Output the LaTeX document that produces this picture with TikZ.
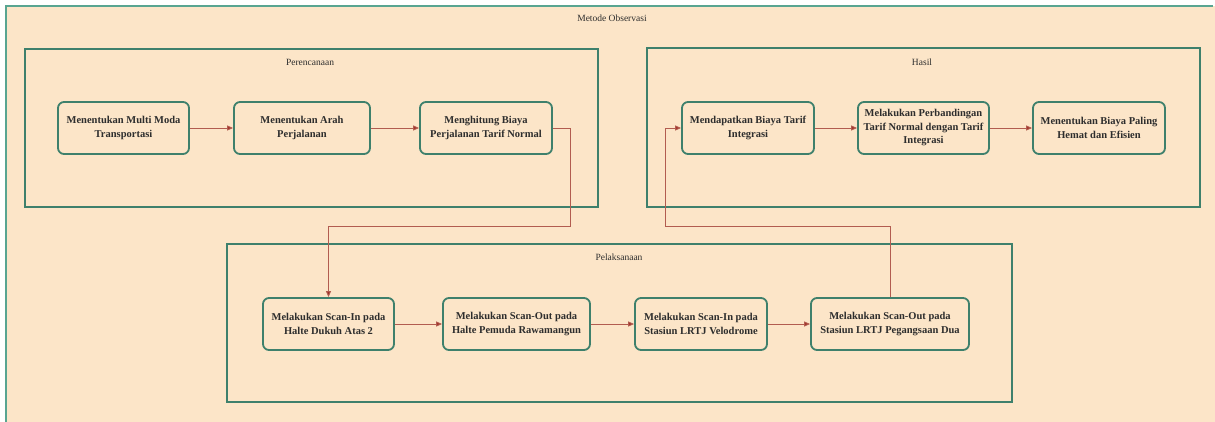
\documentclass[tikz,border=0pt]{standalone}
\usepackage{fontspec}
\setmainfont{Liberation Serif}
\usepackage{tikz}
\usetikzlibrary{positioning,arrows.meta,calc}
\usepackage{xcolor}
\definecolor{peach}{RGB}{252,229,200}
\definecolor{teal1}{RGB}{88,165,145}
\definecolor{tealdark}{RGB}{62,128,108}
\definecolor{flowred}{RGB}{178,92,80}
\definecolor{tipred}{RGB}{160,45,35}
\definecolor{txt}{RGB}{45,45,45}

\begin{document}
\begin{tikzpicture}[x=1pt, y=-1pt,
  stepbox/.style={rectangle, rounded corners=6pt, draw=tealdark, line width=1.8pt, fill=peach,
    minimum height=52pt, align=center, text=txt, inner sep=2pt,
    font=\fontsize{10.5}{13.5}\selectfont\bfseries},
  phase/.style={draw=tealdark, line width=2pt},
  phaselabel/.style={font=\fontsize{9.5}{11}\selectfont, text=txt},
  flow/.style={-{Triangle[length=6pt, width=5pt, fill=tipred]}, draw=flowred, line width=0.9pt},
]
  \useasboundingbox (0,0) rectangle (1215,421);
  \fill[white] (0,0) rectangle (1215,421);

  % outer frame (cut off at right and bottom)
  \fill[peach] (6,6) rectangle (1215,440);
  \draw[teal1, line width=1.6pt] (6,440) -- (6,6) -- (1213,6);
  \node[phaselabel] (title) at (612,18) {Metode Observasi};

  % phase containers
  \draw[phase] (25,49) rectangle (598,207);
  \node[phaselabel] (lplan) at (310,62) {Perencanaan};
  \draw[phase] (647,48) rectangle (1200,207);
  \node[phaselabel] (lhasil) at (922,62) {Hasil};
  \draw[phase] (227,244) rectangle (1012,402);
  \node[phaselabel] (lpel) at (619,257) {Pelaksanaan};

  % Perencanaan steps
  \node[stepbox, minimum width=131pt] (P1) at (123.5,128) {Menentukan Multi Moda\\Transportasi};
  \node[stepbox, minimum width=136pt] (P2) at (302,128) {Menentukan Arah\\Perjalanan};
  \node[stepbox, minimum width=132pt] (P3) at (486,128) {Menghitung Biaya\\Perjalanan Tarif Normal};

  % Hasil steps
  \node[stepbox, minimum width=132pt] (H1) at (748,128) {Mendapatkan Biaya Tarif\\Integrasi};
  \node[stepbox, minimum width=131pt] (H2) at (923.5,128) {Melakukan Perbandingan\\Tarif Normal dengan Tarif\\Integrasi};
  \node[stepbox, minimum width=132pt] (H3) at (1099,128) {Menentukan Biaya Paling\\Hemat dan Efisien};

  % Pelaksanaan steps
  \node[stepbox, minimum width=131pt] (L1) at (328.5,324) {Melakukan Scan-In pada\\Halte Dukuh Atas 2};
  \node[stepbox, minimum width=147pt] (L2) at (516.5,324) {Melakukan Scan-Out pada\\Halte Pemuda Rawamangun};
  \node[stepbox, minimum width=132pt] (L3) at (701,324) {Melakukan Scan-In pada\\Stasiun LRTJ Velodrome};
  \node[stepbox, minimum width=158pt] (L4) at (890,324) {Melakukan Scan-Out pada\\Stasiun LRTJ Pegangsaan Dua};

  % turning points between phases
  \coordinate (turnA) at (570,226);
  \coordinate (turnB) at (665,226);

  \draw[flow] (P1) -- (P2);
  \draw[flow] (P2) -- (P3);
  \draw[flow] (P3.east) -| (turnA) -| (L1.north);
  \draw[flow] (L1) -- (L2);
  \draw[flow] (L2) -- (L3);
  \draw[flow] (L3) -- (L4);
  \draw[flow] (L4.north) |- (turnB) |- (H1.west);
  \draw[flow] (H1) -- (H2);
  \draw[flow] (H2) -- (H3);
\end{tikzpicture}
\end{document}
